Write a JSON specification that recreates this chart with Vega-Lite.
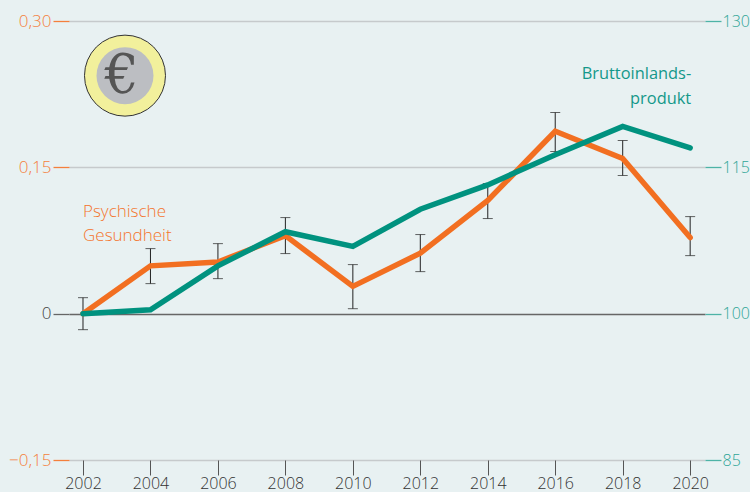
{"$schema":"https://vega.github.io/schema/vega-lite/v6.json","width":636,"height":439,"autosize":"none","padding":{"left":69,"top":21,"right":45,"bottom":32},"background":"#e8f1f2","config":{"view":{"stroke":null},"font":"Open Sans"},
"datasets":{"psy":[{"year":2002,"v":0,"lo":-0.0164,"hi":0.0164},{"year":2004,"v":0.049,"lo":0.0308,"hi":0.0667},{"year":2006,"v":0.053,"lo":0.0359,"hi":0.0718},{"year":2008,"v":0.08,"lo":0.0616,"hi":0.0985},{"year":2010,"v":0.028,"lo":0.0051,"hi":0.0503},{"year":2012,"v":0.062,"lo":0.0431,"hi":0.0811},{"year":2014,"v":0.116,"lo":0.0975,"hi":0.1334},{"year":2016,"v":0.187,"lo":0.1662,"hi":0.2062},{"year":2018,"v":0.159,"lo":0.1416,"hi":0.1775},{"year":2020,"v":0.078,"lo":0.0595,"hi":0.0995}],
"gdp":[{"year":2002,"g":100},{"year":2004,"g":100.4},{"year":2006,"g":104.9},{"year":2008,"g":108.4},{"year":2010,"g":106.9},{"year":2012,"g":110.7},{"year":2014,"g":113.2},{"year":2016,"g":116.3},{"year":2018,"g":119.2},{"year":2020,"g":117}]},
"encoding":{"x":{"field":"year","type":"quantitative","title":null,"scale":{"domain":[2001.585,2020.44],"nice":false,"zero":false},"axis":{"values":[2002,2004,2006,2008,2010,2012,2014,2016,2018,2020],"format":"d","grid":false,"domain":false,"tickColor":"#555555","tickSize":15,"tickWidth":1,"labelColor":"#333333","labelFontSize":16,"labelFontWeight":300,"labelPadding":0,"labelFlush":false}}},
"layer":[
{"layer":[
{"data":{"name":"psy"},"mark":{"type":"rule","strokeOpacity":0},"encoding":{"y":{"field":"v","type":"quantitative","title":null,"scale":{"domain":[-0.15,0.3],"nice":false,"zero":false},"axis":{"values":[-0.15,0,0.15,0.3],"labelExpr":"datum.value===0?'0':replace(replace(format(datum.value,'.2f'),'.',','),'-','–')","domain":false,"grid":true,"gridColor":{"condition":{"test":"datum.value===0","value":"#666666"},"value":"#c6cacc"},"gridWidth":1.3,"tickSize":16,"tickWidth":1.3,"tickColor":{"condition":{"test":"datum.value===0","value":"#666666"},"value":"#f47f3c"},"labelColor":{"condition":{"test":"datum.value===0","value":"#444444"},"value":"#f47f3c"},"labelFontSize":17,"labelFontWeight":300,"labelPadding":2}}}},
{"data":{"name":"psy"},"mark":{"type":"rule","color":"#222222","strokeWidth":1},"encoding":{"y":{"field":"lo","type":"quantitative"},"y2":{"field":"hi"}}},
{"data":{"name":"psy"},"mark":{"type":"tick","orient":"horizontal","color":"#222222","thickness":1,"size":10},"encoding":{"y":{"field":"lo","type":"quantitative"}}},
{"data":{"name":"psy"},"mark":{"type":"tick","orient":"horizontal","color":"#222222","thickness":1,"size":10},"encoding":{"y":{"field":"hi","type":"quantitative"}}},
{"data":{"name":"psy"},"mark":{"type":"line","color":"#f26f21","strokeWidth":5.5,"strokeCap":"round","strokeJoin":"miter"},"encoding":{"y":{"field":"v","type":"quantitative"}}},
{"data":{"values":[{"year":2002,"v":0.1047,"t":"Psychische"},{"year":2002,"v":0.0801,"t":"Gesundheit"}]},"mark":{"type":"text","align":"left","baseline":"middle","color":"#f4742c","fontSize":17,"fontWeight":300},"encoding":{"y":{"field":"v","type":"quantitative"},"text":{"field":"t"}}},
{"data":{"values":[{"year":2003.245,"v":0.244}]},"mark":{"type":"point","filled":true,"shape":"circle","size":6561,"fill":"#f2f09c","stroke":"#333333","strokeWidth":1,"opacity":1},"encoding":{"y":{"field":"v","type":"quantitative"}}},
{"data":{"values":[{"year":2003.245,"v":0.244}]},"mark":{"type":"point","filled":true,"shape":"circle","size":3249,"fill":"#bcbec2","strokeWidth":0,"opacity":1},"encoding":{"y":{"field":"v","type":"quantitative"}}},
{"data":{"values":[{"year":2003.15,"v":0.243,"t":"€"}]},"mark":{"type":"text","font":"DejaVu Serif","fontSize":54,"color":"#555555","align":"center","baseline":"middle"},"encoding":{"y":{"field":"v","type":"quantitative"},"text":{"field":"t"}}},
{"data":{"values":[{"year":2020.03,"v":0.2452,"t":"Bruttoinlands-"},{"year":2020.03,"v":0.2196,"t":"produkt"}]},"mark":{"type":"text","align":"right","baseline":"middle","color":"#14988a","fontSize":16.4,"fontWeight":400},"encoding":{"y":{"field":"v","type":"quantitative"},"text":{"field":"t"}}}
]},
{"data":{"name":"gdp"},"mark":{"type":"line","color":"#00927f","strokeWidth":5.5,"strokeCap":"round","strokeJoin":"miter"},"encoding":{"y":{"field":"g","type":"quantitative","title":null,"scale":{"domain":[85,130],"nice":false,"zero":false},"axis":{"orient":"right","values":[85,100,115,130],"domain":false,"grid":false,"tickSize":16,"tickWidth":1.3,"tickColor":"#4db3a6","labelColor":"#2fa597","labelFontSize":16,"labelFontWeight":300,"labelPadding":1}}}}
],
"resolve":{"scale":{"y":"independent"}}}
